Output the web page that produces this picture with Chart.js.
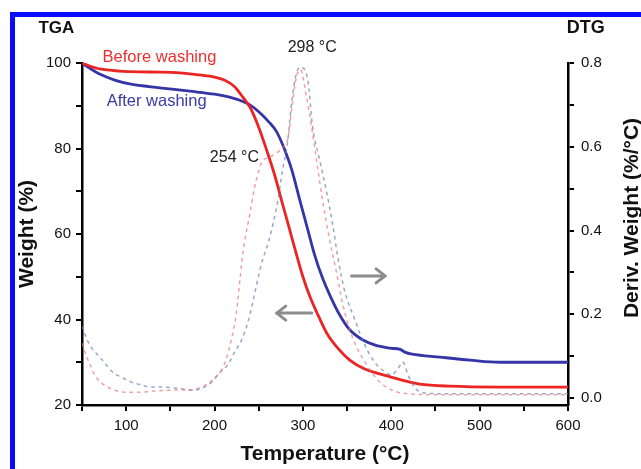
<!DOCTYPE html>
<html>
<head>
<meta charset="utf-8">
<script src="https://cdn.jsdelivr.net/npm/chart.js@4.4.1/dist/chart.umd.min.js"></script>
<style>
  html, body { margin:0; padding:0; background:#fff; }
  #wrap { position:relative; width:641px; height:469px; overflow:hidden; }
  #frame { position:absolute; left:10px; top:12px; right:-10px; bottom:-10px;
           border-top:5px solid #0a0aff; border-left:5px solid #0a0aff; pointer-events:none; }
</style>
</head>
<body>
<div id="wrap">
  <canvas id="c" width="641" height="469"></canvas>
  <div id="frame"></div>
</div>
<script>
// ---- TGA: Before washing ----
const tgaBeforeT = [50, 58.6, 70, 92.6, 126.6, 160.5, 183, 200, 211, 223, 232, 240, 249, 259, 268, 277, 285, 293, 300, 308, 317, 327, 339.5, 353, 370, 387, 404, 412, 432, 466, 523, 600];
const tgaBeforeW = [100, 99.3, 98.6, 98.1, 97.9, 97.7, 97.2, 96.7, 96.0, 94.4, 92.0, 89.7, 85.5, 79.6, 73.8, 67.0, 61.0, 55.0, 50.0, 45.3, 41.1, 36.8, 33.3, 30.5, 28.4, 27.3, 26.3, 25.8, 24.9, 24.4, 24.2, 24.2];
// ---- TGA: After washing ----
const tgaAfterT = [50, 58.6, 70, 87, 104, 138, 172, 200, 217, 232, 240, 250, 262.4, 270, 277.2, 287.4, 296.4, 305.5, 313.4, 322, 332, 341, 353, 368, 381.8, 398.5, 410, 416, 423.5, 455, 489, 523, 600];
const tgaAfterW = [100, 98.8, 97.4, 96.0, 95.1, 94.2, 93.4, 92.7, 92.0, 91.0, 90.2, 88.6, 86.0, 84.0, 80.8, 75.0, 68.0, 61.0, 55.0, 49.8, 45.0, 41.3, 37.6, 35.2, 34.0, 33.3, 33.0, 32.3, 31.9, 31.2, 30.5, 30.0, 30.0];
// ---- DTG: Before washing ----
const dtgBeforeT = [50, 55, 60, 66, 75, 87, 98, 117, 135, 155, 174, 185, 193, 200, 208, 214, 219, 223, 226, 232, 240, 245, 249, 254, 262, 270, 278, 283, 288, 292, 297, 304, 310, 316, 322, 330, 338, 345, 356, 372, 387, 404, 420, 450, 500, 550, 600];
const dtgBeforeV = [0.13, 0.10, 0.075, 0.05, 0.031, 0.019, 0.014, 0.014, 0.017, 0.019, 0.019, 0.026, 0.035, 0.048, 0.067, 0.098, 0.139, 0.179, 0.227, 0.346, 0.44, 0.50, 0.535, 0.565, 0.575, 0.585, 0.60, 0.62, 0.70, 0.76, 0.785, 0.72, 0.645, 0.56, 0.475, 0.38, 0.30, 0.225, 0.145, 0.08, 0.038, 0.016, 0.01, 0.008, 0.008, 0.008, 0.008];
// ---- DTG: After washing ----
const dtgAfterT = [50, 58.6, 67.7, 75.6, 84.7, 96, 106, 117.5, 128.8, 140, 155, 166, 175.5, 186.6, 196.8, 205.8, 214.9, 222.8, 230.7, 237.5, 242, 245.5, 253, 262, 271.5, 277, 282, 287.5, 292, 297, 305.5, 311, 319, 327, 334, 340, 347, 359, 370, 381, 393, 400, 408, 413, 419, 427, 438, 470, 520, 560, 600];
const dtgAfterV = [0.17, 0.127, 0.103, 0.084, 0.062, 0.048, 0.038, 0.031, 0.026, 0.026, 0.024, 0.021, 0.019, 0.024, 0.038, 0.06, 0.079, 0.11, 0.139, 0.179, 0.217, 0.25, 0.32, 0.38, 0.47, 0.545, 0.60, 0.71, 0.77, 0.79, 0.76, 0.647, 0.568, 0.49, 0.41, 0.33, 0.258, 0.186, 0.127, 0.086, 0.062, 0.055, 0.072, 0.086, 0.055, 0.024, 0.012, 0.01, 0.01, 0.01, 0.01];

// ---- axes / ticks ----
const xTicks = [50,100,150,200,250,300,350,400,450,500,550,600];
const xLabels = [100,200,300,400,500,600];
const yTicks = [20,30,40,50,60,70,80,90,100];
const yLabels = [20,40,60,80,100];
const y2Ticks = [0,0.1,0.2,0.3,0.4,0.5,0.6,0.7,0.8];
const y2Labels = [0,0.2,0.4,0.6,0.8];

const FF = '"Liberation Sans", Arial, sans-serif';
// ---- annotations (data coordinates) ----
const notes = [
  {text:'TGA', t:21, w:108.2, color:'#111', font:'bold 17px '+FF, align:'center'},
  {text:'DTG', t:620, w:108.2, color:'#111', font:'bold 18px '+FF, align:'center'},
  {text:'Before washing', t:73.3, w:101.2, color:'#ec2f2f', font:'16.5px '+FF, align:'left'},
  {text:'After washing', t:77.9, w:90.9, color:'#3a3aa6', font:'16.5px '+FF, align:'left'},
  {text:'298 °C', t:282.8, w:103.7, color:'#222', font:'16px '+FF, align:'left'},
  {text:'254 °C', t:194.7, w:77.8, color:'#222', font:'16px '+FF, align:'left'}
];
const arrows = [
  {t1:355, t2:393, w:50.2},
  {t1:310, t2:270.4, w:41.5}
];

function pts(xs, ys){ return xs.map((x,i)=>({x:x, y:ys[i]})); }

const annot = {
  id:'annot',
  afterDraw(chart){
    const ctx = chart.ctx, xs = chart.scales.x, ys = chart.scales.y;
    ctx.save();
    ctx.textBaseline = 'middle';
    notes.forEach(n=>{
      ctx.font = n.font; ctx.fillStyle = n.color; ctx.textAlign = n.align;
      ctx.fillText(n.text, xs.getPixelForValue(n.t), ys.getPixelForValue(n.w));
    });
    ctx.strokeStyle = '#8c8c8c'; ctx.lineWidth = 3; ctx.lineCap = 'round'; ctx.lineJoin='round';
    arrows.forEach(a=>{
      const x1 = xs.getPixelForValue(a.t1), x2 = xs.getPixelForValue(a.t2), y = ys.getPixelForValue(a.w);
      const d = x2 > x1 ? 1 : -1;
      ctx.beginPath(); ctx.moveTo(x1,y); ctx.lineTo(x2,y); ctx.stroke();
      ctx.beginPath(); ctx.moveTo(x2-d*9,y-7); ctx.lineTo(x2,y); ctx.lineTo(x2-d*9,y+7); ctx.stroke();
    });
    // right axis title, reading bottom-to-top
    const y2 = chart.scales.y2;
    ctx.font = 'bold 21px '+FF;
    ctx.fillStyle = '#111'; ctx.textAlign='center';
    ctx.translate(y2.right - 9, (chart.chartArea.top + chart.chartArea.bottom)/2 - 16);
    ctx.rotate(-Math.PI/2);
    ctx.fillText('Deriv. Weight (%/°C)', 0, 0);
    ctx.restore();
  }
};

const tickFont = {family:FF, size:15};
const axisGrid = {drawOnChartArea:false, drawTicks:true, tickLength:6, color:'#000', lineWidth:2};

new Chart(document.getElementById('c'), {
  type:'line',
  data:{
    datasets:[
      {label:'DTG before', data:pts(dtgBeforeT, dtgBeforeV), yAxisID:'y2', borderColor:'rgba(232,120,130,0.7)', borderWidth:1.5, borderDash:[2.5,5], pointRadius:0, cubicInterpolationMode:'monotone', fill:false},
      {label:'DTG after', data:pts(dtgAfterT, dtgAfterV), yAxisID:'y2', borderColor:'rgba(115,125,180,0.7)', borderWidth:1.5, borderDash:[2.5,5], pointRadius:0, cubicInterpolationMode:'monotone', fill:false},
      {label:'Before washing', data:pts(tgaBeforeT, tgaBeforeW), yAxisID:'y', borderColor:'#ec2424', borderWidth:2.8, pointRadius:0, cubicInterpolationMode:'monotone', fill:false},
      {label:'After washing', data:pts(tgaAfterT, tgaAfterW), yAxisID:'y', borderColor:'#3535a8', borderWidth:2.8, pointRadius:0, cubicInterpolationMode:'monotone', fill:false}
    ]
  },
  options:{
    responsive:false, animation:false, devicePixelRatio:1,
    layout:{padding:{top:63, left:0, right:0, bottom:0}},
    plugins:{legend:{display:false}, tooltip:{enabled:false}},
    elements:{line:{borderCapStyle:'round'}},
    scales:{
      x:{type:'linear', position:'bottom', min:50, max:600,
        afterBuildTicks(s){ s.ticks = xTicks.map(v=>({value:v})); },
        afterFit(s){ s.height = 64; },
        ticks:{autoSkip:false, maxRotation:0, padding:6, color:'#111', font:tickFont,
          callback:(v)=> xLabels.includes(v) ? String(v) : ''},
        grid:axisGrid, border:{display:true, color:'#000', width:2.5},
        title:{display:true, text:'Temperature (°C)', color:'#111', padding:{top:0,bottom:2},
          font:{family:FF, size:21, weight:'bold'}}
      },
      y:{type:'linear', position:'left', min:20, max:100,
        afterBuildTicks(s){ s.ticks = yTicks.map(v=>({value:v})); },
        afterFit(s){ s.width = 82; },
        ticks:{autoSkip:false, padding:5, color:'#111', font:tickFont,
          callback:(v)=> yLabels.includes(v) ? String(v) : ''},
        grid:axisGrid, border:{display:true, color:'#000', width:2.5},
        title:{display:true, text:'Weight (%)', color:'#111', padding:{top:15,bottom:0},
          font:{family:FF, size:21, weight:'bold'}}
      },
      y2:{type:'linear', position:'right', min:-0.0167, max:0.8,
        afterBuildTicks(s){ s.ticks = y2Ticks.map(v=>({value:v})); },
        afterFit(s){ s.width = 73; },
        ticks:{autoSkip:false, padding:7, color:'#111', font:tickFont,
          callback:(v)=> y2Labels.some(l=>Math.abs(l-v)<1e-6) ? v.toFixed(1) : ''},
        grid:axisGrid, border:{display:true, color:'#000', width:2.5}
      }
    }
  },
  plugins:[annot]
});
</script>
</body>
</html>
